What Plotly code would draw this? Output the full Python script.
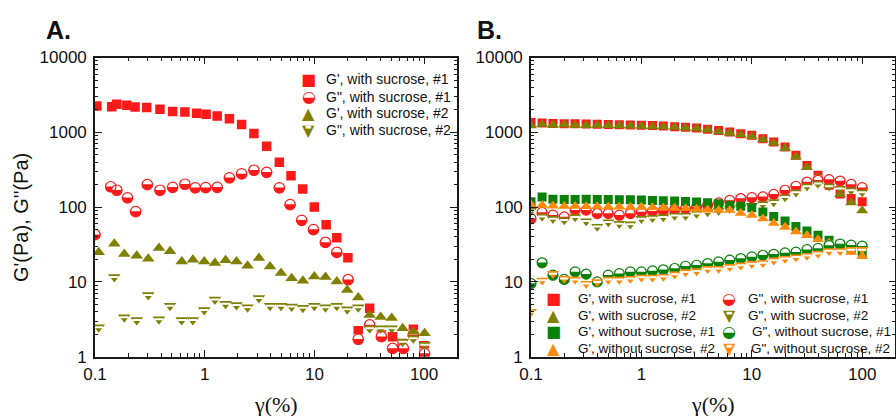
import plotly.graph_objects as go

W, H = 896, 416

# ---------------- Panel A: with sucrose, samples #1 and #2 ----------------
a_gp1_strain = [0.104, 0.142, 0.158, 0.195, 0.232, 0.296, 0.391, 0.51, 0.66, 0.845,
                1.03, 1.30, 1.68, 2.17, 2.81, 3.67, 4.79, 6.12, 7.82, 9.98,
                12.8, 16.0, 20.2, 25.1, 31.9, 40.8, 51.6, 63.1, 79.8, 100]
a_gp1 = [2245, 2200, 2365, 2295, 2180, 2140, 2030, 1890, 1866, 1792,
         1737, 1650, 1520, 1276, 966, 653, 398, 263, 175, 100,
         58, 39, 21, 2.23, 4.46, 1.95, 1.85, 1.5, 2.33, 1.4]

a_gpp1_strain = [0.1, 0.139, 0.158, 0.198, 0.235, 0.30, 0.391, 0.51, 0.66, 0.82,
                 1.02, 1.30, 1.68, 2.17, 2.81, 3.67, 4.79, 6.0, 7.66, 9.8,
                 12.6, 16.0, 20.3, 25.1, 31.9, 40.8, 51.6, 64.7, 79.8, 101]
a_gpp1 = [42.8, 187, 168, 133, 87, 200, 168, 184, 202, 181,
          182, 184, 246, 278, 311, 292, 181, 108, 66.5, 50,
          33.7, 24.8, 10.7, 1.71, 2.66, 1.85, 1.29, 1.29, 1.95, 1.1]

a_s2_strain = [0.108, 0.15, 0.185, 0.24, 0.306, 0.383, 0.483, 0.617, 0.78, 0.99,
               1.24, 1.55, 1.95, 2.46, 3.12, 3.94, 4.96, 6.2, 7.85, 9.98,
               12.6, 16.0, 19.9, 25.1, 31.9, 40.2, 50.6, 63.8, 79.8, 101]
a_gp2 = [25, 32.4, 23.6, 22.4, 20.4, 28.4, 25.6, 18.8, 19.8, 18.8,
         17.9, 19.4, 18.8, 16.4, 20.8, 16.1, 13.2, 11.2, 10.4, 11.8,
         11.6, 10.1, 7.8, 6.2, 3.6, 3.4, 3.3, 2.4, 2.16, 2.06]
a_gpp2 = [2.48, 11.6, 3.37, 3.1, 6.7, 3.17, 4.8, 3.1, 3.1, 4.2,
          5.8, 5.1, 4.9, 4.6, 6.1, 4.8, 4.8, 4.7, 4.5, 4.8,
          4.6, 4.8, 4.3, 4.6, 2.4, 2.4, 2.4, 1.58, 1.77, 1.44]

# ---------------- Panel B: with / without sucrose ----------------
b_strain = [0.1, 0.126, 0.158, 0.2, 0.251, 0.316, 0.398, 0.501, 0.631, 0.794,
            1.0, 1.26, 1.58, 2.0, 2.51, 3.16, 3.98, 5.01, 6.31, 7.94,
            10.0, 12.6, 15.8, 20.0, 25.1, 31.6, 39.8, 50.1, 63.1, 79.4, 100.0]
b_gp_s1 = [1350, 1330, 1310, 1300, 1300, 1290, 1280, 1270, 1260, 1250,
           1240, 1230, 1210, 1190, 1170, 1140, 1100, 1060, 1007, 957,
           910, 822, 742, 634, 492, 361, 266, 196, 150, 130, 118]
b_gp_s2 = [1230, 1280, 1250, 1270, 1250, 1240, 1250, 1240, 1230, 1220,
           1210, 1200, 1190, 1170, 1150, 1120, 1080, 1020, 975, 930,
           880, 800, 720, 610, 470, 340, 250, 196, 148, 115, 90]
b_gpp_s1 = [70, 85, 78, 74, 91, 91, 82, 82, 78, 82,
            86, 88, 90, 92, 95, 100, 106, 114, 123, 130,
            134, 137, 148, 168, 190, 216, 228, 233, 223, 201, 182]
b_gpp_s2 = [90, 75, 70, 67, 74, 65, 55, 63, 60, 59,
            70, 72, 74, 77, 77, 82, 86, 90, 96, 100,
            105, 110, 117, 136, 158, 190, 206, 190, 177, 168, 158]
b_gp_w1 = [118, 136, 127, 126, 126, 127, 126, 126, 125, 125,
           124, 123, 122, 121, 119, 117, 114, 111, 106, 103,
           98, 86, 75, 65, 55, 48, 42, 36, 32, 28, 24]
b_gp_w2 = [108, 106, 104, 103, 103, 102, 102, 101, 101, 100,
           100, 99, 98, 97, 96, 94, 92, 91, 91, 83,
           78, 70, 61, 54, 47, 42, 37, 33, 29, 25, 22]
b_gpp_w1 = [9.5, 18, 12.3, 10.8, 13.6, 12.7, 10, 12.3, 12.9, 13.6,
            13.6, 14, 14.5, 15.1, 16.2, 16.7, 17.6, 18.5, 19.5, 20.5,
            21.6, 22.7, 23.4, 24.4, 25, 27, 28, 30.6, 32, 31, 30]
b_gpp_w2 = [4.0, 10.5, 12.9, 11.1, 10.8, 9.5, 10, 10.8, 10.8, 11.1,
            11.5, 11.5, 11.8, 12.7, 13.6, 14, 15, 15.1, 16, 16.7,
            17.5, 18, 19.5, 20.5, 21.5, 22.5, 24, 26, 26, 27, 27]

x_tickvals = [0.1, 1, 10, 100]
x_ticktext = ["0.1", "1", "10", "100"]
y_tickvals = [1, 10, 100, 1000, 10000]
y_ticktext = ["1", "10", "100", "1000", "10000"]

RED = "#ff1a1a"
OLIVE = "#7f7f00"
GREEN = "#0a820a"
ORANGE = "#ff8a0a"

SANS = "Liberation Sans"
SERIF = "Liberation Serif"

fig = go.Figure()


def solid(x, y, symbol, color, size, xa, ya):
    fig.add_trace(go.Scatter(
        x=x, y=y, mode="markers", xaxis=xa, yaxis=ya, showlegend=False,
        hoverinfo="skip",
        marker=dict(symbol=symbol, size=size, color=color, line=dict(width=0))))


def half_circle(x, y, color, size, xa, ya):
    # lower half filled, upper half white, coloured rim
    solid(x, y, "circle", color, size, xa, ya)
    fig.add_trace(go.Scatter(
        x=x, y=y, mode="markers", xaxis=xa, yaxis=ya, showlegend=False,
        hoverinfo="skip",
        marker=dict(symbol="line-ew", size=size / 1.4 - 1, angle=180,
                    standoff=size / 4,
                    line=dict(color="white", width=size / 2 - 0.5))))
    fig.add_trace(go.Scatter(
        x=x, y=y, mode="markers", xaxis=xa, yaxis=ya, showlegend=False,
        hoverinfo="skip",
        marker=dict(symbol="circle-open", size=size, color=color,
                    line=dict(color=color, width=1.2))))


def banded_down(x, y, color, size, xa, ya):
    # filled down-triangle with a white band near its top edge
    solid(x, y, "triangle-down", color, size, xa, ya)
    fig.add_trace(go.Scatter(
        x=x, y=y, mode="markers", xaxis=xa, yaxis=ya, showlegend=False,
        hoverinfo="skip",
        marker=dict(symbol="line-ew", size=size * 0.55,
                    line=dict(color="white", width=2))))


# Panel A marks
solid(a_gp1_strain, a_gp1, "square", RED, 9.5, "x", "y")
half_circle(a_gpp1_strain, a_gpp1, RED, 10.5, "x", "y")
solid(a_s2_strain, a_gp2, "triangle-up", OLIVE, 11, "x", "y")
banded_down(a_s2_strain, a_gpp2, OLIVE, 11, "x", "y")

# Panel B marks
solid(b_strain, b_gp_s1, "square", RED, 9, "x2", "y2")
solid(b_strain, b_gp_s2, "triangle-up", OLIVE, 10.5, "x2", "y2")
half_circle(b_strain, b_gpp_s1, RED, 10, "x2", "y2")
banded_down(b_strain, b_gpp_s2, OLIVE, 10.5, "x2", "y2")
solid(b_strain, b_gp_w1, "square", GREEN, 9, "x2", "y2")
solid(b_strain, b_gp_w2, "triangle-up", ORANGE, 10.5, "x2", "y2")
half_circle(b_strain, b_gpp_w1, GREEN, 10, "x2", "y2")
banded_down(b_strain, b_gpp_w2, ORANGE, 10.5, "x2", "y2")


def decade_minors(lo, hi):
    return [k * 10.0 ** d for d in range(lo, hi + 1) for k in range(2, 10)]


AXCOL = "#1a1a1a"
tickfont = dict(family=SANS, size=17, color="#111")


def log_axis(rng, tv, tt, minors, **kw):
    d = dict(type="log", range=rng, showgrid=False, zeroline=False,
             showline=True, linecolor=AXCOL, linewidth=1.6, mirror="allticks",
             ticks="inside", ticklen=7, tickwidth=1.3, tickcolor=AXCOL,
             tickvals=tv, ticktext=tt, tickfont=tickfont,
             minor=dict(ticks="inside", ticklen=3.5, tickwidth=1,
                        tickcolor=AXCOL, tickvals=minors))
    d.update(kw)
    return d


ybot = (H - 356.7) / H
ytop = (H - 57.5) / H
fig.update_layout(
    width=W, height=H, margin=dict(l=0, r=0, t=0, b=0, autoexpand=False),
    paper_bgcolor="white", plot_bgcolor="white", showlegend=False,
    xaxis=log_axis([-1, 2.3], x_tickvals, x_ticktext, decade_minors(-1, 1) + [200],
                   domain=[95 / W, 457 / W], anchor="y", ticklabelstandoff=1),
    yaxis=log_axis([0, 4], y_tickvals, y_ticktext, decade_minors(0, 3),
                   domain=[ybot, ytop], anchor="x", ticklabelstandoff=3),
    xaxis2=log_axis([-1, 2.3], x_tickvals, x_ticktext, decade_minors(-1, 1) + [200],
                    domain=[531 / W, 895.3 / W], anchor="y2", ticklabelstandoff=1),
    yaxis2=log_axis([0, 4], y_tickvals, y_ticktext, decade_minors(0, 3),
                    domain=[ybot, ytop], anchor="x2", ticklabelstandoff=3),
)

ann = []


def px_note(text, x, y, size, family=SANS, color="#111", xanchor="left", **kw):
    ann.append(dict(text=text, x=x / W, y=1 - y / H, xref="paper", yref="paper",
                    xanchor=xanchor, yanchor="middle", showarrow=False,
                    font=dict(family=family, size=size, color=color), **kw))


# panel letters
px_note("<b>A.</b>", 44, 30, 25)
px_note("<b>B.</b>", 475, 30, 25)

# axis titles
px_note("G'(Pa), G''(Pa)", 21, 218, 20, xanchor="center", textangle=-90)
px_note("γ(%)", 276, 404, 22, family=SERIF, xanchor="center")
px_note("γ(%)", 713, 404, 22, family=SERIF, xanchor="center")

GLYPH_FONT = "DejaVu Sans"
GLYPH_SIZE = 16
glyphs = {"square": "■", "up": "▲", "half": "◒", "down": "▼"}


def legend_row(g, c, label, xs, xt, yy, fs):
    px_note(glyphs[g], xs, yy, GLYPH_SIZE, family=GLYPH_FONT, color=c,
            xanchor="center")
    if g == "down":
        # white band across the upper part of the down-triangle key
        px_note("▬", xs, yy - 2.5, 7, family=GLYPH_FONT, color="white",
                xanchor="center")
    px_note(label, xt, yy, fs)


legend_a = [
    ("square", RED, "G', with sucrose, #1"),
    ("half", RED, 'G", with sucrose, #1'),
    ("up", OLIVE, "G', with sucrose, #2"),
    ("down", OLIVE, 'G", with sucrose, #2'),
]
rows_a = [79.3, 96.5, 113.3, 130]
for (g, c, label), yy in zip(legend_a, rows_a):
    legend_row(g, c, label, 308.5, 323.5, yy, 14)

legend_b = [
    ("square", RED, "G', with sucrose, #1", 553, 576),
    ("up", OLIVE, "G', with sucrose, #2", 553, 576),
    ("square", GREEN, "G', without sucrose, #1", 553, 576),
    ("up", ORANGE, "G', without sucrose, #2", 553, 576),
    ("half", RED, 'G", with sucrose, #1', 729, 746),
    ("down", OLIVE, 'G", with sucrose, #2', 729, 746),
    ("half", GREEN, 'G", without sucrose, #1', 729, 750),
    ("down", ORANGE, 'G", without sucrose, #2', 729, 749),
]
rows_b = [298.3, 315, 331.7, 348.3]
for i, (g, c, label, xs, xt) in enumerate(legend_b):
    legend_row(g, c, label, xs, xt, rows_b[i % 4], 13.5)

fig.update_layout(annotations=ann)
fig.write_html("out.html")
